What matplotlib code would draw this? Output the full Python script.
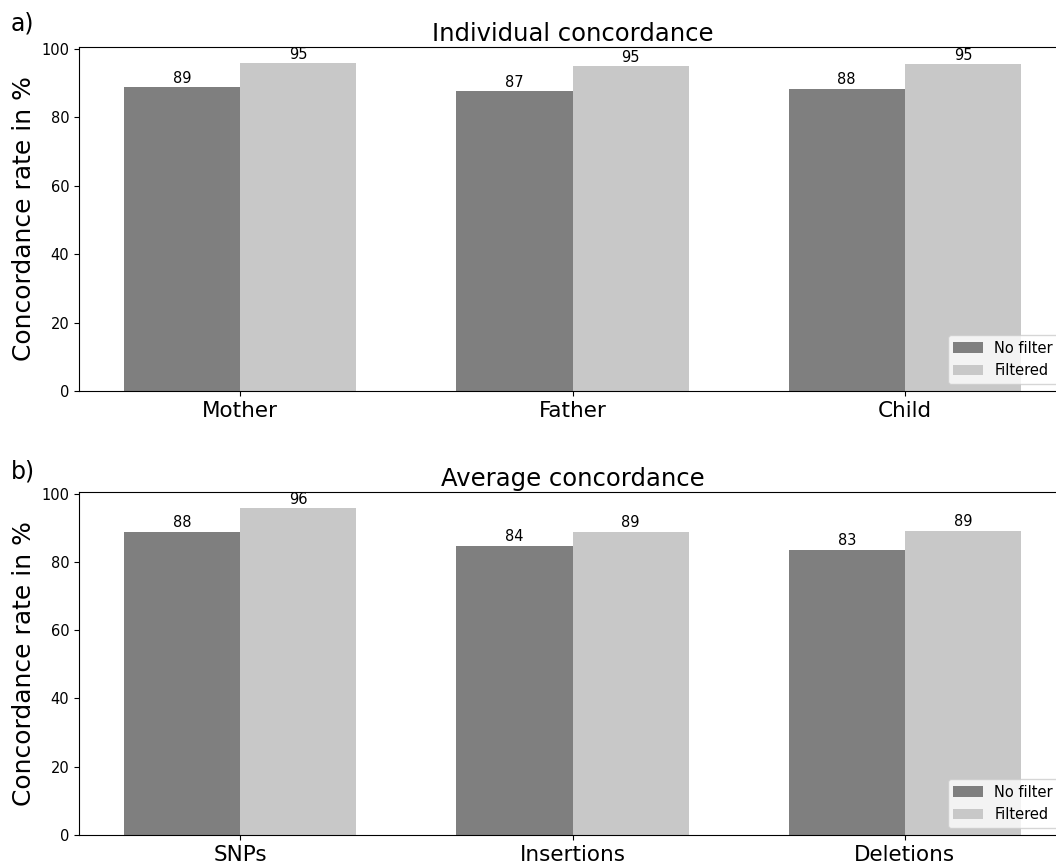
import numpy as np
import matplotlib
matplotlib.use('Agg')
import matplotlib.pyplot as plt

# Data
individuals = ['Mother', 'Father', 'Child']
indiv_nofilter = [88.8, 87.6, 88.4]
indiv_filtered = [95.8, 95.0, 95.6]
indiv_nofilter_labels = ['89', '87', '88']
indiv_filtered_labels = ['95', '95', '95']

variant_types = ['SNPs', 'Insertions', 'Deletions']
avg_nofilter = [88.8, 84.7, 83.6]
avg_filtered = [95.7, 88.8, 89.1]
avg_nofilter_labels = ['88', '84', '83']
avg_filtered_labels = ['96', '89', '89']

width = 0.35
col_nofilter = '#7f7f7f'
col_filtered = '#c8c8c8'

fig = plt.figure(figsize=(10.56, 8.66), dpi=100)
ax1 = fig.add_axes([0.0748, 0.5485, 0.9347, 0.3972])
ax2 = fig.add_axes([0.0748, 0.0358, 0.9347, 0.3961])


def draw_panel(ax, cats, nf, fl, nf_lab, fl_lab, title):
    x = np.arange(len(cats))
    b1 = ax.bar(x - width / 2, nf, width, color=col_nofilter, label='No filter')
    b2 = ax.bar(x + width / 2, fl, width, color=col_filtered, label='Filtered')
    ax.bar_label(b1, labels=nf_lab, fontsize=10.5, padding=1)
    ax.bar_label(b2, labels=fl_lab, fontsize=10.5, padding=1)
    ax.set_xticks(x)
    ax.set_xticklabels(cats, fontsize=15.5)
    ax.set_yticks([0, 20, 40, 60, 80, 100])
    ax.tick_params(axis='y', labelsize=10.5)
    ax.set_ylabel('Concordance rate in %', fontsize=18)
    ax.yaxis.set_label_coords(-0.044, 0.5)
    ax.set_title(title, fontsize=17.5, pad=4)
    ax.legend(loc='lower right', fontsize=10.5)


draw_panel(ax1, individuals, indiv_nofilter, indiv_filtered,
           indiv_nofilter_labels, indiv_filtered_labels, 'Individual concordance')
draw_panel(ax2, variant_types, avg_nofilter, avg_filtered,
           avg_nofilter_labels, avg_filtered_labels, 'Average concordance')

fig.text(0.01, 0.965, 'a)', fontsize=17)
fig.text(0.01, 0.448, 'b)', fontsize=17)

fig.savefig('out.png', dpi=100)
